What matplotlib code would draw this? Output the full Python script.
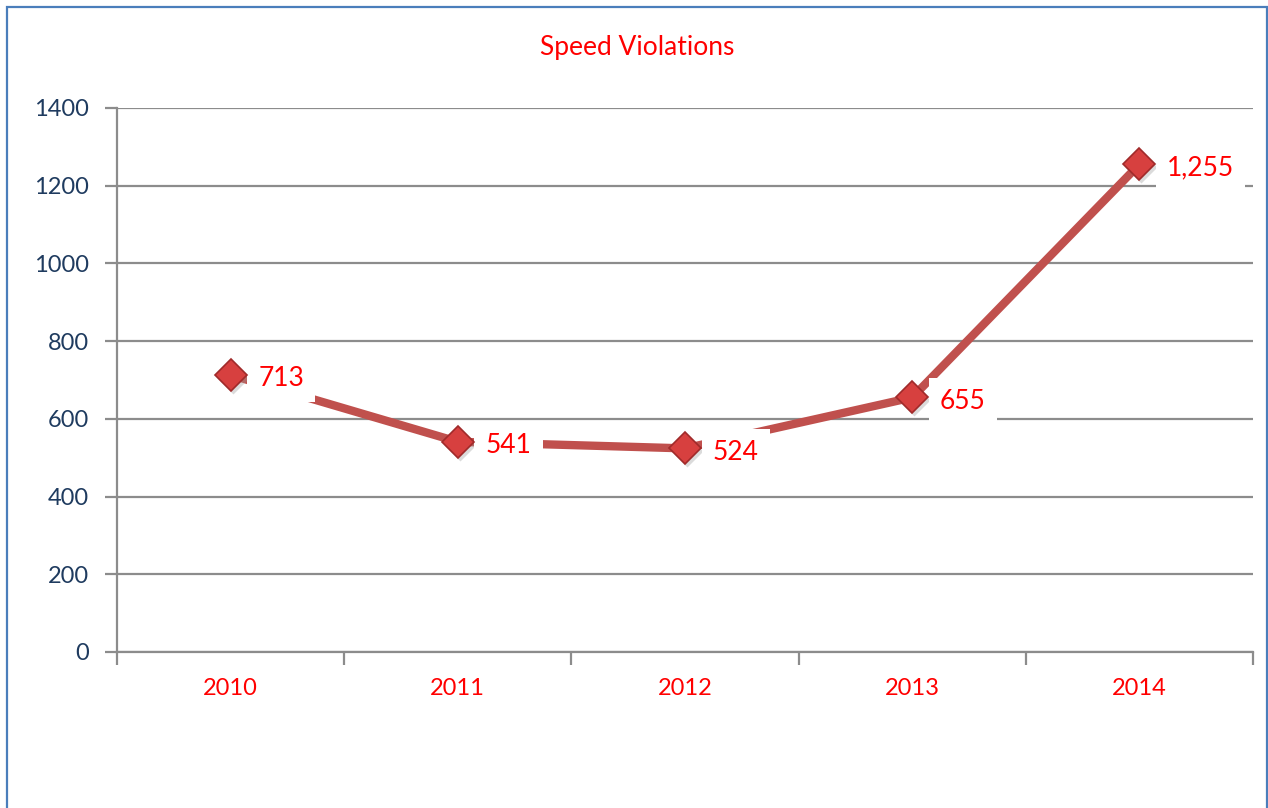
import matplotlib
matplotlib.use("Agg")
import matplotlib.pyplot as plt
from matplotlib.patches import Rectangle

years = ["2010", "2011", "2012", "2013", "2014"]
violations = [713, 541, 524, 655, 1255]
value_labels = ["713", "541", "524", "655", "1,255"]
y_ticks = [0, 200, 400, 600, 800, 1000, 1200, 1400]

plt.rcParams['font.family'] = ['Lato', 'DejaVu Sans']

fig = plt.figure(figsize=(12.68, 8.08), dpi=100)
fig.patch.set_facecolor('white')
ax = fig.add_axes([117/1268, 1-652/808, (1253-117)/1268, (652-108)/808])

x = list(range(len(years)))
line_color = '#C0504D'
ax.plot(x, violations, color=line_color, lw=6, solid_capstyle='butt', zorder=3)
# marker shadow
ax.plot(x, violations, ls='none', marker='D', markersize=16, markerfacecolor='#9a9a9a',
        markeredgecolor='none', alpha=0.35, zorder=4,
        transform=ax.transData + matplotlib.transforms.ScaledTranslation(2/100, -3/100, fig.dpi_scale_trans))
ax.plot(x, violations, ls='none', marker='D', markersize=16, markerfacecolor='#D7403F',
        markeredgecolor='#A02A2A', markeredgewidth=1.2, zorder=6)

for xi, v, lab in zip(x, violations, value_labels):
    ax.annotate(lab, (xi, v), xytext=(20, -1), textcoords='offset points',
                ha='left', va='center_baseline', color='#FF0000', fontsize=19,
                bbox=dict(boxstyle='square,pad=0.42', fc='white', ec='none'), zorder=5)

ax.set_xlim(-0.5, len(years) - 0.5)
ax.set_ylim(0, 1400)
ax.set_yticks(y_ticks)
ax.set_yticklabels([str(t) for t in y_ticks])
ax.set_xticks(x)
ax.set_xticklabels(years)
ax.set_xticks([i - 0.5 for i in range(len(years) + 1)], minor=True)

ax.grid(axis='y', color='#8C8C8C', lw=1.6, zorder=1)
ax.set_axisbelow(True)
for s in ['top', 'right']:
    ax.spines[s].set_visible(False)
for s in ['left', 'bottom']:
    ax.spines[s].set_color('#8C8C8C')
    ax.spines[s].set_linewidth(1.6)

ax.tick_params(axis='y', which='major', length=9, width=1.6, color='#8C8C8C',
               labelcolor='#1F3B5F', labelsize=17, pad=11)
ax.tick_params(axis='x', which='major', length=0, labelcolor='#FF0000', labelsize=17, pad=19)
ax.tick_params(axis='x', which='minor', length=9, width=1.6, color='#8C8C8C')

fig.text(637/1268, 1-47/808, "Speed Violations", ha='center', va='center',
         color='#FF0000', fontsize=19)

border = Rectangle((7/1268, -0.1), (1267-7)/1268, 1.1 - 7/808, transform=fig.transFigure,
                   fill=False, ec='#4A7EBB', lw=1.6, clip_on=False)
fig.patches.append(border)

fig.savefig('out.png', dpi=100)
